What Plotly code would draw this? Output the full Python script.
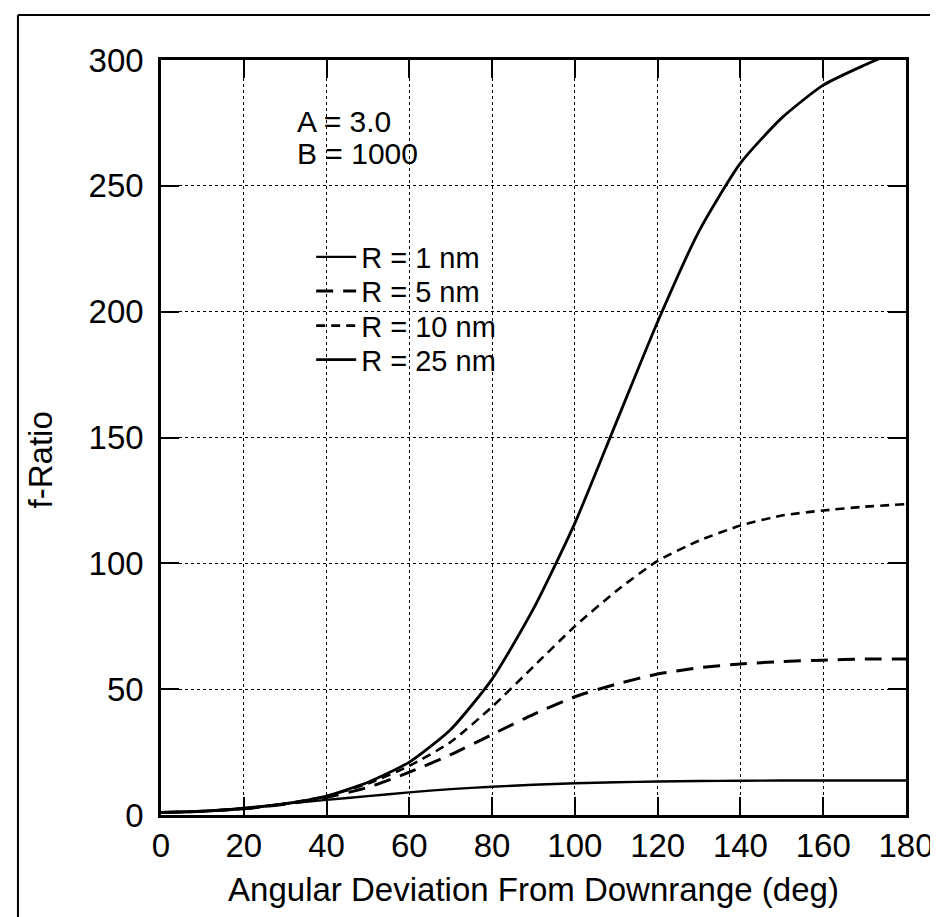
import plotly.graph_objects as go

# Angular deviation from downrange (deg)
angle = [0, 10, 20, 30, 40, 50, 60, 70, 80, 90, 100, 110, 120, 130, 140, 150, 160, 170, 180]

# f-Ratio series
r1 = [1, 1.5, 2.8, 4.5, 6, 7.5, 9, 10.3, 11.2, 12, 12.6, 13, 13.3, 13.5, 13.6, 13.7, 13.7, 13.7, 13.7]
r5 = [1, 1.5, 2.5, 4.3, 7, 11, 17, 24, 32, 40, 47, 52, 56, 58.5, 60, 61, 61.5, 62, 62]
r10 = [1, 1.5, 2.5, 4.5, 7.5, 12.5, 19.5, 29, 43, 59, 75, 89, 101, 109, 115, 119, 121, 122.5, 123.5]
r25 = [1, 1.5, 2.5, 4.5, 7.5, 13, 21, 34, 54, 82, 116, 156, 196, 232, 259, 277, 290, 298, 305]

series_names = ["R = 1 nm", "R = 5 nm", "R = 10 nm", "R = 25 nm"]
x_ticks = [0, 20, 40, 60, 80, 100, 120, 140, 160, 180]
y_ticks = [0, 50, 100, 150, 200, 250, 300]

FONT = "Liberation Sans, Arial, Helvetica, sans-serif"

fig = go.Figure()
styles = [
    dict(width=2.4, dash="solid"),
    dict(width=3.0, dash="17px,10px"),
    dict(width=2.6, dash="9px,6px"),
    dict(width=2.8, dash="solid"),
]
legend_ids = ["legend", "legend2", "legend3", "legend4"]
for name, ys, st, lg in zip(series_names, [r1, r5, r10, r25], styles, legend_ids):
    fig.add_trace(go.Scatter(
        x=angle, y=ys, mode="lines", name=name, legend=lg,
        line=dict(color="black", width=st["width"], dash=st["dash"], shape="spline", smoothing=0.6),
        cliponaxis=True,
    ))

axis_common = dict(
    showline=True, linecolor="black", linewidth=2.5, mirror="ticks",
    ticks="inside", ticklen=18, tickwidth=2, tickcolor="black",
    showgrid=True, gridcolor="black", gridwidth=1.3, griddash="dot",
    zeroline=False,
    tickfont=dict(family=FONT, size=33, color="black"),
)

fig.update_xaxes(
    range=[0, 180], tickvals=x_ticks, ticktext=[str(v) for v in x_ticks],
    ticklabelstandoff=0,
    title=dict(text="Angular Deviation From Downrange (deg)",
               font=dict(family=FONT, size=33, color="black"), standoff=15),
    **axis_common,
)
fig.update_yaxes(
    range=[0, 300], tickvals=y_ticks, ticktext=[str(v) for v in y_ticks],
    ticklabelstandoff=8,
    **axis_common,
)

fig.add_annotation(
    text="f-Ratio", textangle=-90, xref="paper", yref="paper",
    x=-0.162, y=0.47, xanchor="center", yanchor="middle", showarrow=False,
    font=dict(family=FONT, size=33, color="black"),
)
fig.add_annotation(
    text="A = 3.0", xref="x", yref="y", x=32.4, y=275.5,
    xanchor="left", yanchor="middle", showarrow=False,
    font=dict(family=FONT, size=30, color="black"),
)
fig.add_annotation(
    text="B = 1000", xref="x", yref="y", x=32.4, y=263,
    xanchor="left", yanchor="middle", showarrow=False,
    font=dict(family=FONT, size=30, color="black"),
)

# outer frame of the scanned figure
fig.add_shape(type="line", xref="paper", yref="paper", x0=-0.192, x1=1.1, y0=1.0596, y1=1.0596,
              line=dict(color="black", width=2))
fig.add_shape(type="line", xref="paper", yref="paper", x0=-0.192, x1=-0.192, y0=1.0596, y1=-0.15,
              line=dict(color="black", width=2))

legend_common = dict(
    x=0.2016, xanchor="left", yanchor="middle",
    bgcolor="rgba(0,0,0,0)", borderwidth=0,
    font=dict(family=FONT, size=29, color="black"),
    itemwidth=40,
)
legend_rows = [0.739, 0.694, 0.648, 0.603]

fig.update_layout(
    width=938, height=917,
    margin=dict(l=153, r=36, t=52, b=110),
    paper_bgcolor="white", plot_bgcolor="white",
    font=dict(family=FONT, color="black"),
    showlegend=True,
    legend=dict(y=legend_rows[0], **legend_common),
    legend2=dict(y=legend_rows[1], **legend_common),
    legend3=dict(y=legend_rows[2], **legend_common),
    legend4=dict(y=legend_rows[3], **legend_common),
)

fig.write_html("out.html")
